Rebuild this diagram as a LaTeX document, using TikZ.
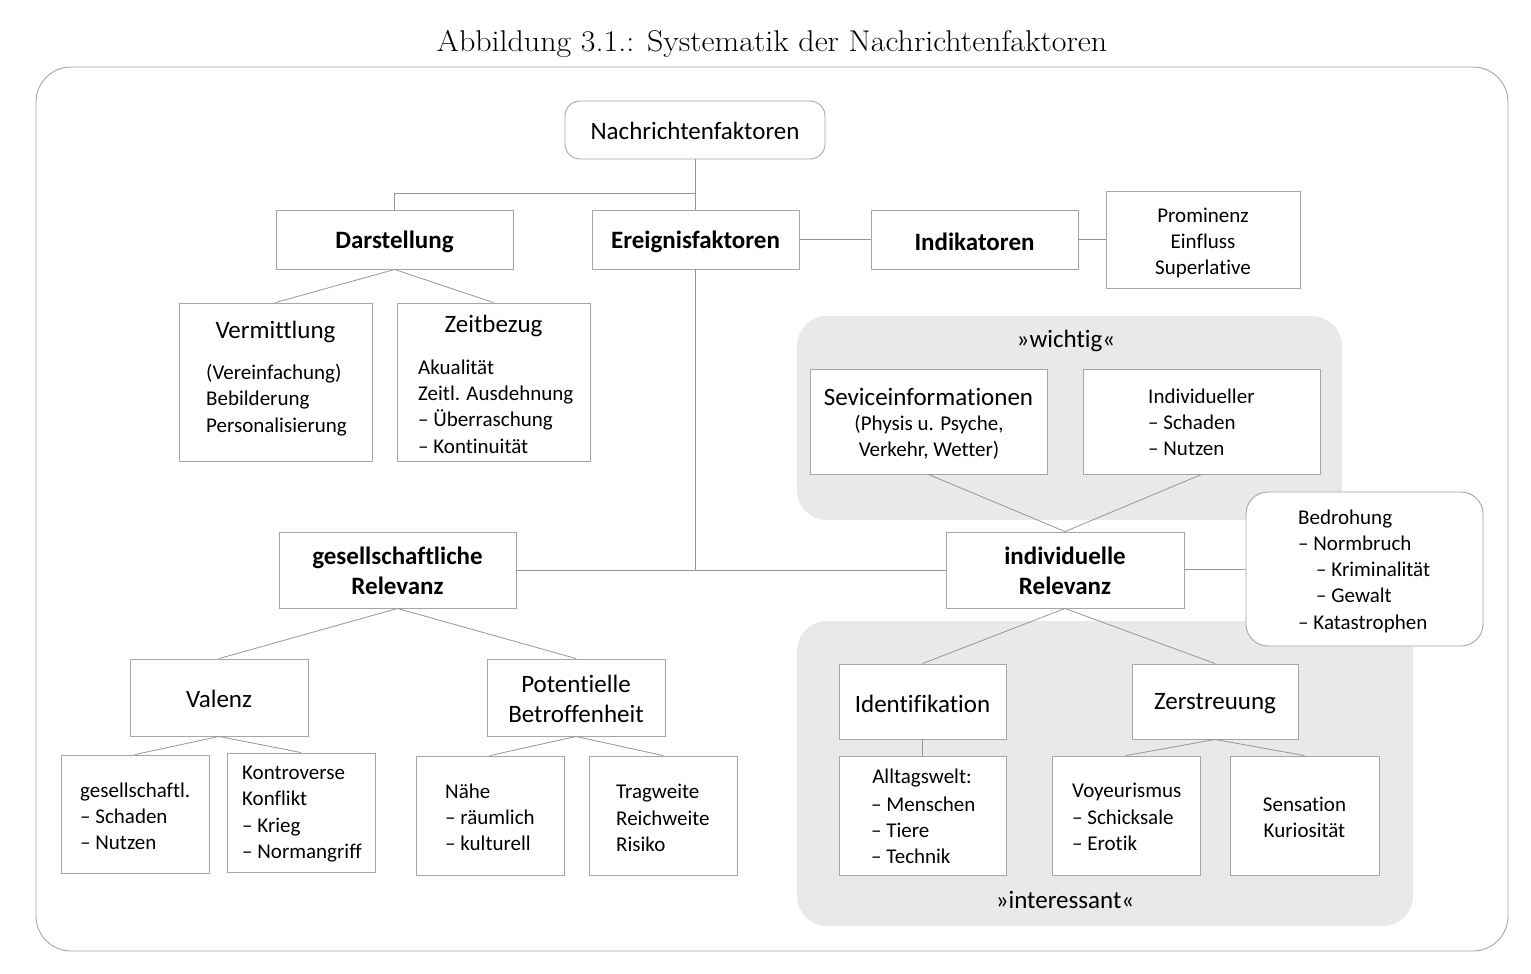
\documentclass[tikz,border=0pt]{standalone}
\usepackage{fontspec}
\newfontfamily\carl{Carlito}[Ligatures=NoCommon]
\definecolor{bord}{RGB}{166,166,166}
\definecolor{conngray}{RGB}{150,150,150}
\definecolor{regio}{RGB}{233,233,233}
\begin{document}
\begin{tikzpicture}[x=1pt,y=-1pt,
 box/.style={draw=bord, fill=white, line width=0.9pt, inner sep=0pt},
 region/.style={fill=regio, draw=none, rounded corners=30pt, inner sep=0pt},
 cn/.style={draw=conngray, line width=0.8pt},
 big/.style={font=\carl\fontsize{25}{30.5}\selectfont, inner sep=0pt, align=center},
 bigb/.style={font=\carl\bfseries\fontsize{25}{30.5}\selectfont, inner sep=0pt, align=center},
 sm/.style={font=\carl\fontsize{21}{26.2}\selectfont, inner sep=0pt, align=left, anchor=west},
 smc/.style={font=\carl\fontsize{21}{26.2}\selectfont, inner sep=0pt, align=center},
]
\useasboundingbox (0,0) rectangle (1531,974);
% title and frame
\node[inner sep=0pt, font=\fontsize{30}{36}\selectfont] (title) at (772,44) {\scalebox{1.065}[1]{Abbildung 3.1.: Systematik der Nachrichtenfaktoren}};
\node[draw=bord, line width=0.9pt, rounded corners=35pt, minimum width=1472, minimum height=884, inner sep=0pt] (frame) at (772,509) {};
% gray regions
\node[region, minimum width=545, minimum height=204] (wichtig) at (1069.5,418) {};
\node[region, minimum width=616, minimum height=305] (interessant) at (1105,773.5) {};
% boxes
\node[box, rounded corners=15pt, minimum width=260, minimum height=58] (nf) at (695,130) {};
\node[box, minimum width=237, minimum height=59] (dar) at (394.5,239.5) {};
\node[box, minimum width=207, minimum height=59] (ere) at (695.5,239.5) {};
\node[box, minimum width=207, minimum height=59] (ind) at (974.5,239.5) {};
\node[box, minimum width=194, minimum height=97] (pro) at (1203,239.5) {};
\node[box, minimum width=193, minimum height=158] (verm) at (275.5,382) {};
\node[box, minimum width=193, minimum height=158] (zeit) at (493.5,382) {};
\node[box, minimum width=237, minimum height=76] (ges) at (397.5,570) {};
\node[box, minimum width=238, minimum height=76] (indiv) at (1065,570) {};
\node[box, rounded corners=22pt, minimum width=237, minimum height=154] (bed) at (1364.5,569) {};
\node[box, minimum width=237, minimum height=105] (sev) at (928.5,421.5) {};
\node[box, minimum width=237, minimum height=105] (indl) at (1201.5,421.5) {};
\node[box, minimum width=167, minimum height=75] (iden) at (922.5,701.5) {};
\node[box, minimum width=166, minimum height=75] (zer) at (1215,701.5) {};
\node[box, minimum width=167, minimum height=119] (allt) at (922.5,815.5) {};
\node[box, minimum width=148, minimum height=119] (voy) at (1126,815.5) {};
\node[box, minimum width=149, minimum height=119] (sen) at (1304.5,815.5) {};
\node[box, minimum width=178, minimum height=77] (val) at (219,697.5) {};
\node[box, minimum width=178, minimum height=77] (pot) at (576,697.5) {};
\node[box, minimum width=148, minimum height=118] (gsch) at (135,814) {};
\node[box, minimum width=148, minimum height=119] (kon) at (301,812.5) {};
\node[box, minimum width=148, minimum height=119] (nae) at (490,815.5) {};
\node[box, minimum width=148, minimum height=119] (tra) at (663,815.5) {};
% connectors
\coordinate (j1) at (695,193);
\coordinate (j2) at (695.5,570);
\draw[cn] (nf.south) -- (nf.south |- ere.north);
\draw[cn] (j1) -| (dar.north);
\draw[cn] (ere) -- (ind);
\draw[cn] (ind) -- (pro);
\draw[cn] (dar.south) -- (verm.north);
\draw[cn] (dar.south) -- (zeit.north);
\draw[cn] (ere.south) -- (j2);
\draw[cn] (ges) -- (indiv);
\draw[cn] (indiv) -- (bed);
\draw[cn] (sev.south) -- (indiv.north);
\draw[cn] (indl.south) -- (indiv.north);
\draw[cn] (indiv.south) -- (iden.north);
\draw[cn] (indiv.south) -- (zer.north);
\draw[cn] (iden) -- (allt);
\draw[cn] (zer.south) -- (voy.north);
\draw[cn] (zer.south) -- (sen.north);
\draw[cn] (ges.south) -- (val.north);
\draw[cn] (ges.south) -- (pot.north);
\draw[cn] (val.south) -- (gsch.north);
\draw[cn] (val.south) -- (kon.north);
\draw[cn] (pot.south) -- (nae.north);
\draw[cn] (pot.south) -- (tra.north);
% texts
\node[big] (nfT) at (695,131) {Nachrichtenfaktoren};
\node[bigb] (darT) at (394.5,242) {Darstellung};
\node[bigb] (ereT) at (695.5,242) {Ereignisfaktoren};
\node[bigb] (indT) at (974.5,242) {Indikatoren};
\node[smc] (proT) at (1203,243) {Prominenz\\Einfluss\\Superlative};
\node[big] (vermT) at (275.5,332) {Vermittlung};
\node[sm] (vermL) at (206,400) {(Vereinfachung)\\Bebilderung\\Personalisierung};
\node[big] (zeitT) at (493.5,326) {Zeitbezug};
\node[sm] (zeitL) at (418,406.5) {Akualität\\Zeitl. Ausdehnung\\– Überraschung\\– Kontinuität};
\node[bigb] (gesT) at (397.5,571) {gesellschaftliche\\Relevanz};
\node[bigb] (indivT) at (1065,571) {individuelle\\Relevanz};
\node[sm] (bedT) at (1298,571) {Bedrohung\\– Normbruch\\\hspace*{18pt}– Kriminalität\\\hspace*{18pt}– Gewalt\\– Katastrophen};
\node[big] (wichtigT) at (1066,341) {»wichtig«};
\node[big] (interT) at (1065,900) {»interessant«};
\node[big] (sevT) at (928.5,397) {Seviceinformationen};
\node[smc] (sevL) at (929,437) {(Physis u. Psyche,\\Verkehr, Wetter)};
\node[sm] (indlT) at (1148,422) {Individueller\\– Schaden\\– Nutzen};
\node[big] (idenT) at (922.5,704) {Identifikation};
\node[big] (zerT) at (1215,704) {Zerstreuung};
\node[smc] (alltT) at (922,778) {Alltagswelt:};
\node[sm] (alltL) at (871,830.5) {– Menschen\\– Tiere\\– Technik};
\node[sm] (voyT) at (1072,817) {Voyeurismus\\– Schicksale\\– Erotik};
\node[smc] (senT) at (1304.5,817.5) {Sensation\\Kuriosität};
\node[big] (valT) at (219,699) {Valenz};
\node[big] (potT) at (576,699) {Potentielle\\Betroffenheit};
\node[sm] (gschT) at (80,816) {gesellschaftl.\\– Schaden\\– Nutzen};
\node[sm] (konT) at (242,814) {Kontroverse\\Konflikt\\– Krieg\\– Normangriff};
\node[sm] (naeT) at (445,817) {Nähe\\– räumlich\\– kulturell};
\node[sm] (traT) at (616,818) {Tragweite\\Reichweite\\Risiko};
\end{tikzpicture}
\end{document}
